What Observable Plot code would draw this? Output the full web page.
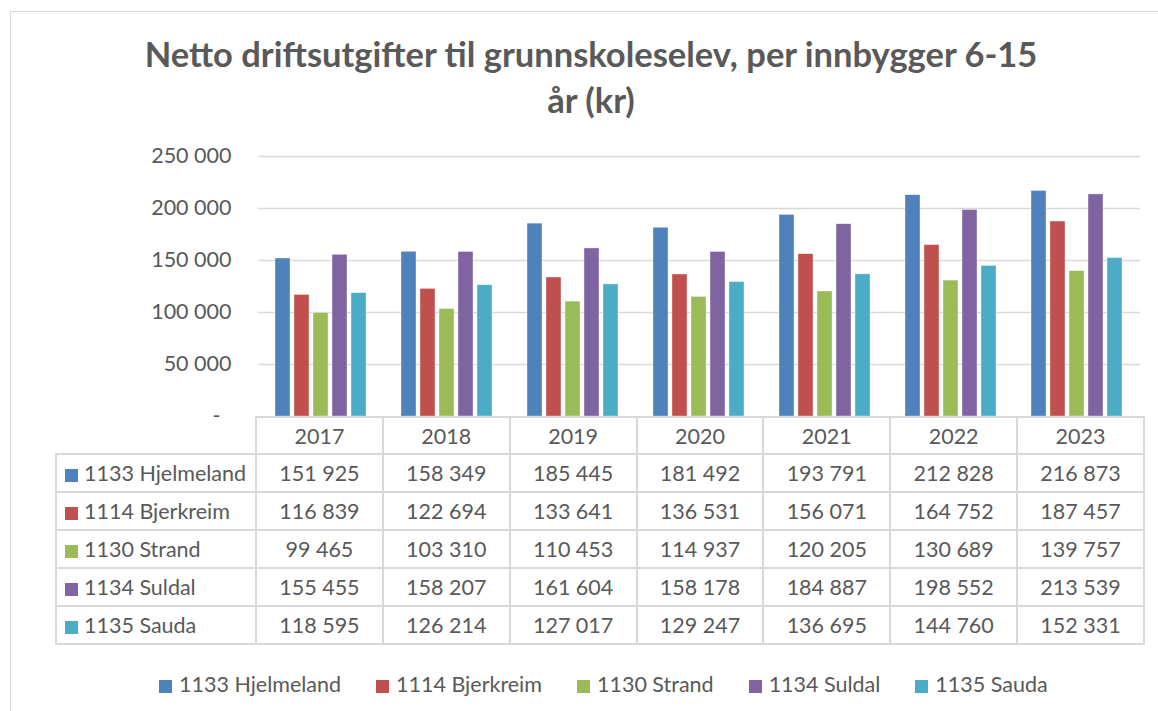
<!DOCTYPE html>
<html>
<head>
<meta charset="utf-8">
<script src="https://cdn.jsdelivr.net/npm/d3@7"></script>
<script src="https://cdn.jsdelivr.net/npm/@observablehq/plot@0.6"></script>
<style>
  html, body { margin: 0; padding: 0; background: #fff; }
  body { width: 1158px; height: 711px; overflow: hidden; position: relative; font-family: Lato, "Open Sans", sans-serif; color: #595959; }
  #frame { position: absolute; left: 10px; top: 11px; width: 1160px; height: 720px; border: 1.5px solid #d9d9d9; box-sizing: border-box; }
  #title { position: absolute; left: 41px; width: 1100px; top: 31px; text-align: center; font-weight: bold; font-size: 34.5px; line-height: 46px; color: #595959; }
  #chart { position: absolute; left: 0; top: 140px; }
  #table { position: absolute; left: 55px; top: 416px; border-collapse: collapse; table-layout: fixed; font-size: 21.5px; color: #595959; }
  #table td { border: 2px solid #d9d9d9; text-align: center; padding: 0; height: 36px; white-space: nowrap; }
  #table tr.head td { height: 35px; }
  #table td.lab { text-align: left; padding-left: 8px; }
  #table td.blank { border-top: none; border-left: none; }
  .sw { display: inline-block; width: 13px; height: 13px; margin-right: 6px; vertical-align: -1px; }
  #legend { position: absolute; top: 671px; left: 159px; display: flex; gap: 35px; font-size: 21.5px; color: #595959; white-space: nowrap; }
  #legend .sw { margin-right: 7px; }
</style>
</head>
<body>
<div id="frame"></div>
<div id="title">Netto driftsutgifter til grunnskoleselev, per innbygger 6-15<br>år (kr)</div>
<div id="chart"></div>
<table id="table"></table>
<div id="legend"></div>
<script>
const years = ["2017", "2018", "2019", "2020", "2021", "2022", "2023"];
const series = ["1133 Hjelmeland", "1114 Bjerkreim", "1130 Strand", "1134 Suldal", "1135 Sauda"];
const colors = ["#4F81BD", "#C0504D", "#9BBB59", "#8064A2", "#4BACC6"];
const hjelmeland = [151925, 158349, 185445, 181492, 193791, 212828, 216873];
const bjerkreim  = [116839, 122694, 133641, 136531, 156071, 164752, 187457];
const strand     = [99465, 103310, 110453, 114937, 120205, 130689, 139757];
const suldal     = [155455, 158207, 161604, 158178, 184887, 198552, 213539];
const sauda      = [118595, 126214, 127017, 129247, 136695, 144760, 152331];
const yTicks = [0, 50000, 100000, 150000, 200000, 250000];

const values = [hjelmeland, bjerkreim, strand, suldal, sauda];
const data = [];
years.forEach((y, i) => series.forEach((s, j) => data.push({year: y, series: s, value: values[j][i]})));

const fmt = d => d3.format(",")(d).replace(/,/g, " ");
const font = "Lato, 'Open Sans', sans-serif";

const chart = Plot.plot({
  width: 1158,
  height: 290,
  marginLeft: 255,
  marginRight: 15,
  marginTop: 16,
  marginBottom: 14,
  style: {fontFamily: font, fontSize: "21.5px", color: "#595959", background: "transparent"},
  fx: {domain: years, padding: 0, axis: null},
  x: {domain: series, paddingInner: 0.2, paddingOuter: 0.855, axis: null},
  y: {domain: [0, 250000], axis: null},
  color: {domain: series, range: colors},
  marks: [
    Plot.ruleY(yTicks.filter(d => d > 0), {stroke: "#d9d9d9", strokeWidth: 1.5}),
    Plot.barY(data, {fx: "year", x: "series", y: "value", fill: "series", stroke: "#ffffff", strokeWidth: 0.6, strokeOpacity: 0.6}),
    Plot.axisY({ticks: yTicks.filter(d => d > 0), label: null, tickSize: 0, tickPadding: 27, tickFormat: fmt, fill: "#595959", fontSize: 21.5}),
    Plot.axisY({ticks: [0], label: null, tickSize: 0, tickPadding: 38, tickFormat: () => "-", fill: "#595959", fontSize: 21.5})
  ]
});
document.getElementById("chart").appendChild(chart);

// data table
const table = document.getElementById("table");
const colW = 888 / 7;
let html = `<colgroup><col style="width:200px">${years.map(() => `<col style="width:${colW}px">`).join("")}</colgroup>`;
html += `<tr class="head"><td class="blank"></td>${years.map(y => `<td>${y}</td>`).join("")}</tr>`;
series.forEach((s, j) => {
  html += `<tr><td class="lab"><span class="sw" style="background:${colors[j]}"></span>${s}</td>${values[j].map(v => `<td>${fmt(v)}</td>`).join("")}</tr>`;
});
table.innerHTML = html;

// legend
document.getElementById("legend").innerHTML = series.map((s, j) =>
  `<span><span class="sw" style="background:${colors[j]}"></span>${s}</span>`).join("");
</script>
</body>
</html>
